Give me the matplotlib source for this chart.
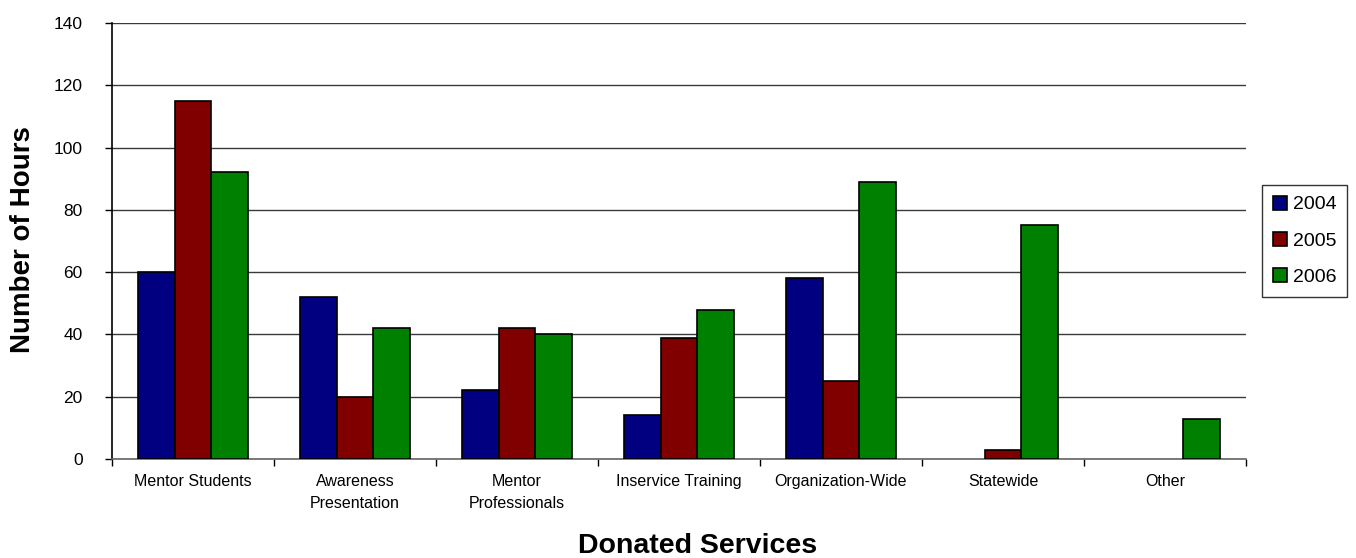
import matplotlib
matplotlib.use("Agg")
import matplotlib.pyplot as plt
import numpy as np

plt.rcParams['font.family'] = ['Liberation Sans', 'DejaVu Sans']

categories = ["Mentor Students", "Awareness\nPresentation", "Mentor\nProfessionals",
              "Inservice Training", "Organization-Wide", "Statewide", "Other"]
years = ["2004", "2005", "2006"]
hours_2004 = [60, 52, 22, 14, 58, 0, 0]
hours_2005 = [115, 20, 42, 39, 25, 3, 0]
hours_2006 = [92, 42, 40, 48, 89, 75, 13]
y_ticks = [0, 20, 40, 60, 80, 100, 120, 140]

series = [hours_2004, hours_2005, hours_2006]
colors = ["#000080", "#800000", "#008000"]

W, H = 1356, 558
fig = plt.figure(figsize=(W / 100, H / 100), dpi=100)
ax = fig.add_axes([112 / W, 1 - 459 / H, (1246 - 112) / W, (459 - 23) / H])

x = np.arange(len(categories))
width = 0.226
for i, (vals, col, yr) in enumerate(zip(series, colors, years)):
    # empty bars are left out rather than drawn as a flat outline
    heights = np.array(vals, dtype=float)
    heights[heights == 0] = np.nan
    ax.bar(x + (i - 1) * width, heights, width, color=col, edgecolor="black",
           linewidth=1.2, label=yr, zorder=3)

ax.set_xlim(-0.5, len(categories) - 0.5)
ax.set_ylim(0, 140)
ax.set_yticks(y_ticks)
ax.yaxis.grid(True, color="#3a3a3a", linewidth=1.0, zorder=0)
ax.set_axisbelow(True)

# category labels centred, ticks at group boundaries
ax.set_xticks(x)
ax.set_xticklabels(categories, fontsize=11.5, linespacing=1.6)
ax.tick_params(axis="x", which="major", length=0, pad=11)
ax.set_xticks(np.arange(len(categories) + 1) - 0.5, minor=True)
ax.tick_params(axis="x", which="minor", length=5, width=1, color="black", direction="out")
ax.tick_params(axis="y", length=5, width=1, direction="out", labelsize=12.5, pad=16)

for s in ["top", "right"]:
    ax.spines[s].set_visible(False)
ax.spines["left"].set_color("black")
ax.spines["left"].set_linewidth(1.2)
ax.spines["bottom"].set_color("#666666")
ax.spines["bottom"].set_linewidth(1.2)

fig.text(23 / W, 1 - 240 / H, "Number of Hours", rotation=90, fontsize=20,
         fontweight="bold", ha="center", va="center")
fig.text(698 / W, 1 - 546 / H, "Donated Services", fontsize=20.5,
         fontweight="bold", ha="center", va="center")

leg = fig.legend(loc="upper left", bbox_to_anchor=(1262 / W, 1 - 185 / H),
                 bbox_transform=fig.transFigure,
                 fontsize=14, frameon=True, fancybox=False, handlelength=0.72,
                 handleheight=0.72, handletextpad=0.3, borderpad=0.55,
                 labelspacing=0.95, borderaxespad=0)
leg.get_frame().set_edgecolor("black")
leg.get_frame().set_linewidth(1.0)

fig.savefig("out.png", dpi=100)
